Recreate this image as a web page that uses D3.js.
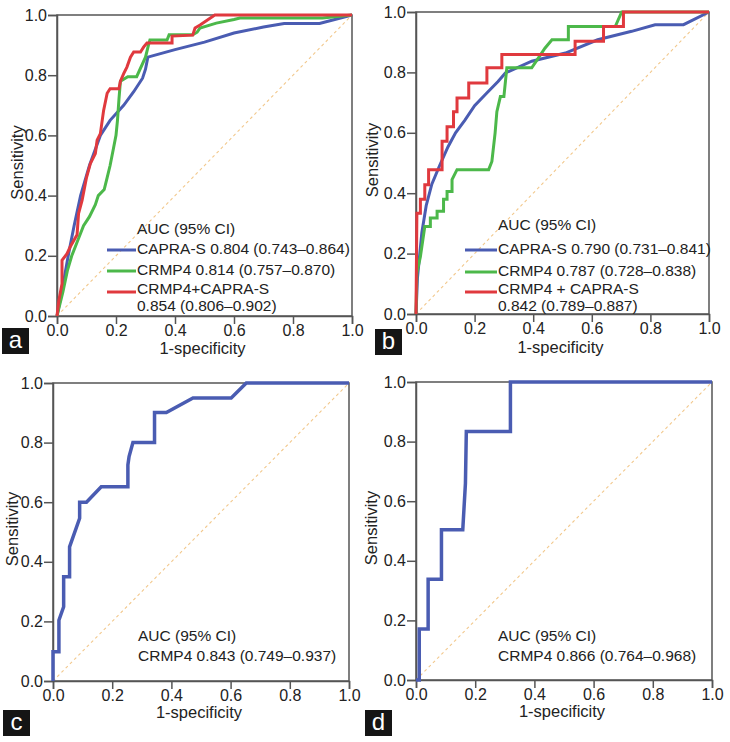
<!DOCTYPE html>
<html>
<head>
<meta charset="utf-8">
<script src="https://cdn.jsdelivr.net/npm/d3@7"></script>
<style>
  html, body { margin: 0; padding: 0; background: #fff; }
  svg text { font-family: "Liberation Sans", Arial, sans-serif; fill: #222; }
</style>
</head>
<body>
<svg id="chart" width="730" height="742"></svg>
<script>
// ---------------- DATA ----------------
const tickValues = [0.0, 0.2, 0.4, 0.6, 0.8, 1.0];
const xAxisTitle = "1-specificity";
const yAxisTitle = "Sensitivity";
const legendTitle = "AUC (95% CI)";
const panelLetters = ["a", "b", "c", "d"];

// Panel a: [1-specificity, sensitivity]
const rocA_capra = [[0,0],[0.02,0.1],[0.038,0.2],[0.058,0.3],[0.08,0.4],[0.11,0.5],[0.147,0.6],[0.18,0.65],[0.226,0.7],[0.26,0.745],[0.29,0.79],[0.3,0.82],[0.308,0.86],[0.4,0.885],[0.5,0.91],[0.6,0.94],[0.7,0.96],[0.77,0.972],[0.89,0.972],[1,1]];
const rocA_crmp4 = [[0,0],[0.02,0.08],[0.035,0.15],[0.05,0.2],[0.07,0.25],[0.09,0.3],[0.11,0.33],[0.13,0.37],[0.14,0.4],[0.16,0.42],[0.17,0.46],[0.18,0.5],[0.19,0.55],[0.2,0.6],[0.205,0.65],[0.21,0.72],[0.215,0.78],[0.24,0.795],[0.27,0.795],[0.3,0.86],[0.31,0.9],[0.315,0.917],[0.373,0.917],[0.38,0.934],[0.46,0.934],[0.475,0.943],[0.485,0.957],[0.54,0.973],[0.6,0.985],[0.62,0.99],[0.9,0.99],[1,1]];
const rocA_combo = [[0,0],[0.006,0.05],[0.017,0.107],[0.017,0.185],[0.034,0.207],[0.045,0.23],[0.068,0.27],[0.073,0.34],[0.085,0.384],[0.1,0.46],[0.113,0.506],[0.13,0.54],[0.136,0.584],[0.147,0.606],[0.158,0.683],[0.17,0.74],[0.18,0.755],[0.21,0.755],[0.215,0.78],[0.226,0.805],[0.237,0.827],[0.249,0.86],[0.26,0.877],[0.283,0.877],[0.294,0.894],[0.305,0.907],[0.39,0.907],[0.39,0.93],[0.46,0.933],[0.468,0.957],[0.485,0.967],[0.5,0.977],[0.535,1.0],[1,1]];

// Panel b
const rocB_capra = [[0,0],[0.005,0.12],[0.02,0.27],[0.035,0.36],[0.054,0.43],[0.08,0.49],[0.109,0.553],[0.135,0.6],[0.167,0.642],[0.2,0.69],[0.24,0.73],[0.28,0.77],[0.305,0.798],[0.395,0.837],[0.51,0.864],[0.62,0.908],[0.736,0.936],[0.816,0.958],[0.913,0.958],[1,1]];
const rocB_crmp4 = [[0,0],[0.003,0.136],[0.015,0.19],[0.03,0.29],[0.049,0.29],[0.049,0.318],[0.072,0.318],[0.072,0.34],[0.094,0.34],[0.094,0.38],[0.106,0.38],[0.106,0.406],[0.123,0.406],[0.123,0.445],[0.14,0.478],[0.248,0.478],[0.259,0.505],[0.27,0.6],[0.276,0.67],[0.288,0.72],[0.3,0.72],[0.31,0.815],[0.395,0.815],[0.418,0.848],[0.44,0.88],[0.464,0.908],[0.52,0.908],[0.52,0.952],[0.68,0.952],[0.702,1.0],[1,1]];
const rocB_combo = [[0,0],[0.003,0.334],[0.015,0.334],[0.015,0.38],[0.03,0.38],[0.03,0.428],[0.043,0.428],[0.043,0.478],[0.089,0.478],[0.089,0.572],[0.106,0.572],[0.106,0.62],[0.128,0.62],[0.128,0.67],[0.14,0.67],[0.14,0.715],[0.18,0.715],[0.18,0.765],[0.242,0.765],[0.242,0.815],[0.293,0.815],[0.293,0.859],[0.543,0.859],[0.543,0.903],[0.64,0.903],[0.64,0.952],[0.708,0.952],[0.708,1.0],[1,1]];

// Panel c
const rocC_crmp4 = [[0,0],[0,0.098],[0.02,0.098],[0.02,0.204],[0.036,0.249],[0.036,0.35],[0.056,0.35],[0.056,0.45],[0.09,0.546],[0.09,0.6],[0.113,0.6],[0.163,0.652],[0.253,0.652],[0.253,0.725],[0.257,0.753],[0.27,0.8],[0.343,0.8],[0.343,0.901],[0.383,0.901],[0.473,0.95],[0.602,0.95],[0.653,1.0],[1,1]];

// Panel d
const rocD_crmp4 = [[0,0],[0.011,0],[0.011,0.171],[0.041,0.171],[0.041,0.338],[0.086,0.338],[0.086,0.504],[0.158,0.504],[0.167,0.66],[0.17,0.834],[0.319,0.834],[0.319,1.0],[1,1]];

const legendA = ["CAPRA-S 0.804 (0.743\u20130.864)", "CRMP4 0.814 (0.757\u20130.870)", "CRMP4+CAPRA-S", "0.854 (0.806\u20130.902)"];
const legendB = ["CAPRA-S 0.790 (0.731\u20130.841)", "CRMP4 0.787 (0.728\u20130.838)", "CRMP4 + CAPRA-S", "0.842 (0.789\u20130.887)"];
const legendC = ["CRMP4 0.843 (0.749\u20130.937)"];
const legendD = ["CRMP4 0.866 (0.764\u20130.968)"];

// ---------------- STYLE ----------------
const COL = { blue: "#4a5cb2", green: "#4cb84a", red: "#e0393e", diag: "#f2c88c", frame: "#555" };
const FS_TICK = 16, FS_TITLE = 16.5, FS_LEG = 15.5;

const svg = d3.select("#chart");

const panels = [
  { L: 57, R: 352, T: 15, B: 316, ylx: 19, series: [[rocA_capra, COL.blue], [rocA_crmp4, COL.green], [rocA_combo, COL.red]], lw: 3,
    legend: { lineX: 50, textX: 80, titleY: 230, rows: [250, 271, 290], contY: 307, labels: legendA },
    letter: { x: 2, y: 328 }, xlabY: 350 },
  { L: 416, R: 709, T: 12, B: 314, ylx: 374, series: [[rocB_capra, COL.blue], [rocB_crmp4, COL.green], [rocB_combo, COL.red]], lw: 3,
    legend: { lineX: 49, textX: 82, titleY: 226, rows: [250, 272, 290], contY: 307, labels: legendB },
    letter: { x: 375, y: 329 }, xlabY: 349 },
  { L: 53, R: 349, T: 383, B: 681, ylx: 14, series: [[rocC_crmp4, COL.blue]], lw: 3.5,
    legend: { textX: 85, titleY: 637, rows: [657], labels: legendC },
    letter: { x: 3, y: 710 }, xlabY: 714 },
  { L: 416, R: 712, T: 382, B: 680, ylx: 373, series: [[rocD_crmp4, COL.blue]], lw: 3.5,
    legend: { textX: 82, titleY: 637, rows: [657], labels: legendD },
    letter: { x: 365, y: 710 }, xlabY: 713 }
];

panels.forEach((p, i) => {
  const x = d3.scaleLinear().domain([0, 1]).range([p.L, p.R]);
  const y = d3.scaleLinear().domain([0, 1]).range([p.B, p.T]);
  const g = svg.append("g");

  // diagonal reference
  g.append("line")
    .attr("x1", x(0)).attr("y1", y(0)).attr("x2", x(1)).attr("y2", y(1))
    .attr("stroke", COL.diag).attr("stroke-width", 1.1).attr("stroke-dasharray", "3,3");

  // frame (top and right)
  g.append("rect")
    .attr("x", p.L).attr("y", p.T).attr("width", p.R - p.L).attr("height", p.B - p.T)
    .attr("fill", "none").attr("stroke", COL.frame).attr("stroke-width", 1.5);

  // axes
  const fmt = d3.format(".1f");
  const xa = g.append("g").attr("transform", `translate(0,${p.B})`)
    .call(d3.axisBottom(x).tickValues(tickValues).tickFormat(fmt).tickSize(8).tickPadding(1));
  const ya = g.append("g").attr("transform", `translate(${p.L},0)`)
    .call(d3.axisLeft(y).tickValues(tickValues).tickFormat(fmt).tickSize(9).tickPadding(1));
  [xa, ya].forEach(a => {
    a.select(".domain").attr("stroke", COL.frame).attr("stroke-width", 1.5);
    a.selectAll(".tick line").attr("stroke", COL.frame).attr("stroke-width", 1.5);
    a.selectAll(".tick text").attr("font-size", FS_TICK).style("fill", "#222");
  });

  // curves
  const line = d3.line().x(d => x(d[0])).y(d => y(d[1]));
  p.series.forEach(([data, col]) => {
    g.append("path").datum(data).attr("d", line)
      .attr("fill", "none").attr("stroke", col).attr("stroke-width", p.lw)
      .attr("stroke-linejoin", "miter");
  });

  // axis titles
  g.append("text").attr("x", (p.L + p.R) / 2 - 2).attr("y", p.xlabY)
    .attr("text-anchor", "middle").attr("dominant-baseline", "middle").attr("font-size", FS_TITLE).text(xAxisTitle);
  g.append("text").attr("transform", `translate(${p.ylx},${(p.T + p.B) / 2 - 3}) rotate(-90)`)
    .attr("text-anchor", "middle").attr("dominant-baseline", "middle").attr("font-size", FS_TITLE).text(yAxisTitle);

  // legend
  const lg = p.legend;
  g.append("text").attr("x", p.L + lg.textX).attr("y", lg.titleY).attr("dominant-baseline", "middle")
    .attr("font-size", FS_LEG).text(legendTitle);
  lg.rows.forEach((ry, k) => {
    if (lg.lineX !== undefined) {
      const ly = k === 2 ? ry + 2 : ry;
      g.append("line").attr("x1", p.L + lg.lineX).attr("x2", p.L + lg.textX - 1)
        .attr("y1", ly).attr("y2", ly).attr("stroke", p.series[k][1]).attr("stroke-width", 3);
    }
    g.append("text").attr("x", p.L + lg.textX).attr("y", ry).attr("dominant-baseline", "middle")
      .attr("font-size", FS_LEG).text(lg.labels[k]);
  });
  if (lg.contY) {
    g.append("text").attr("x", p.L + lg.textX).attr("y", lg.contY).attr("dominant-baseline", "middle")
      .attr("font-size", FS_LEG).text(lg.labels[3]);
  }

  // panel letter
  g.append("rect").attr("x", p.letter.x).attr("y", p.letter.y).attr("width", 27).attr("height", 26).attr("fill", "#151515");
  g.append("text").attr("x", p.letter.x + 13.5).attr("y", p.letter.y + 14).attr("text-anchor", "middle")
    .attr("dominant-baseline", "middle").attr("font-size", 24).style("fill", "#fff").text(panelLetters[i]);
});
</script>
</body>
</html>
